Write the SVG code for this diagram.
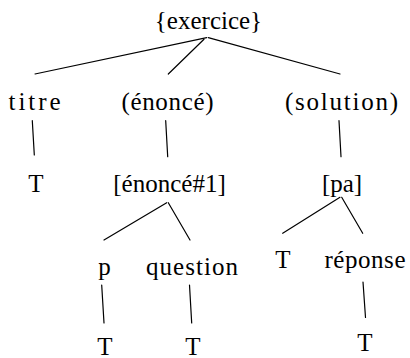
<svg xmlns="http://www.w3.org/2000/svg" width="410" height="358" viewBox="0 0 410 358">
<style>
  .lbl { font-size: 25px; fill: #000; text-anchor: middle; }
  .edge { stroke: #000; stroke-width: 1.2; fill: none; stroke-linecap: round; }
</style>
<rect width="410" height="358" fill="#fff"/>
<g id="connectors">
  <line class="edge" x1="206.7" y1="37.7" x2="35" y2="74"/>
  <line class="edge" x1="204" y1="39.3" x2="168.3" y2="74"/>
  <line class="edge" x1="208.3" y1="37.7" x2="340" y2="74"/>
  <line class="edge" x1="32.3" y1="120.7" x2="34.3" y2="155"/>
  <line class="edge" x1="165.7" y1="120.7" x2="167.7" y2="156.7"/>
  <line class="edge" x1="339" y1="120.7" x2="341" y2="156.7"/>
  <line class="edge" x1="166.7" y1="202.7" x2="104" y2="240"/>
  <line class="edge" x1="168.3" y1="202.7" x2="190" y2="240"/>
  <line class="edge" x1="340" y1="197.3" x2="282.7" y2="233.3"/>
  <line class="edge" x1="341.7" y1="197.3" x2="362.7" y2="233.3"/>
  <line class="edge" x1="101.7" y1="285" x2="104" y2="323"/>
  <line class="edge" x1="189.5" y1="285" x2="191.7" y2="323"/>
  <line class="edge" x1="363" y1="282" x2="365.5" y2="317.5"/>
</g>
<g id="nodes" font-family="'Liberation Serif', 'Times New Roman', Times, serif">
<g id="exercice"><text class="lbl" x="208.5" y="29">{exercice}</text></g>
<g id="titre"><text class="lbl" x="34.5" y="110" textLength="52" lengthAdjust="spacing">titre</text></g>
<g id="enonce"><text class="lbl" x="167.5" y="110" textLength="92" lengthAdjust="spacing">(énoncé)</text></g>
<g id="solution"><text class="lbl" x="341.5" y="110" textLength="113" lengthAdjust="spacing">(solution)</text></g>
<g id="titre-T"><text class="lbl" x="36" y="192">T</text></g>
<g id="enonce1"><text class="lbl" x="169.5" y="192">[énoncé#1]</text></g>
<g id="pa"><text class="lbl" x="342" y="192">[pa]</text></g>
<g id="p"><text class="lbl" x="104.5" y="275">p</text></g>
<g id="question"><text class="lbl" x="192" y="275" textLength="92" lengthAdjust="spacing">question</text></g>
<g id="pa-T"><text class="lbl" x="283" y="268">T</text></g>
<g id="reponse"><text class="lbl" x="365" y="268" textLength="81" lengthAdjust="spacing">réponse</text></g>
<g id="p-T"><text class="lbl" x="105" y="355">T</text></g>
<g id="question-T"><text class="lbl" x="193" y="355">T</text></g>
<g id="reponse-T"><text class="lbl" x="365" y="351">T</text></g>
</g>
</svg>
